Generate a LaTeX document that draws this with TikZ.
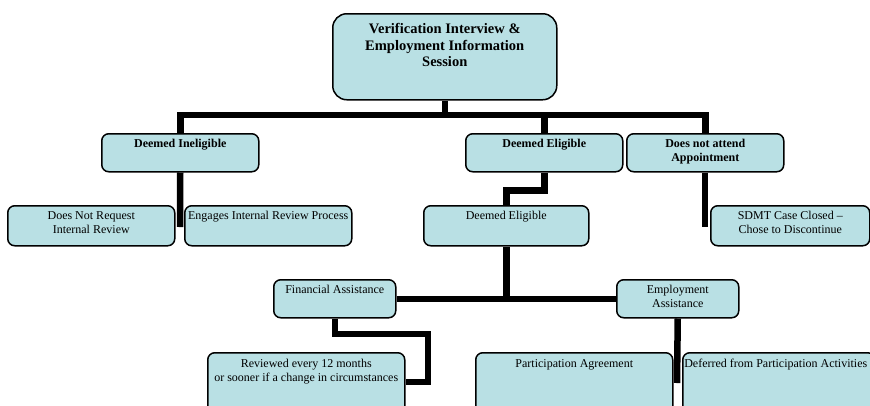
\documentclass[tikz,border=0pt]{standalone}
\usepackage{fontspec}
\setmainfont{Liberation Serif}
\usetikzlibrary{backgrounds}
\definecolor{boxc}{RGB}{185,224,228}
\newcommand\bxt[4]{\parbox[c][#2][t]{#1}{\centering\rule{0pt}{#3}#4\par}}
\begin{document}
\begin{tikzpicture}[x=1pt,y=-1pt,
  box/.style={draw, line width=1.5pt, fill=boxc, rounded corners=7pt, inner sep=0pt,
    anchor=north west, font=\fontsize{12}{14}\selectfont},
  boldbox/.style={box, font=\fontsize{12}{14}\selectfont\bfseries},
  conn/.style={line width=6.5pt, line join=miter}]
\clip (0,0) rectangle (870,405);
% nodes
\node[box, rounded corners=14pt, font=\fontsize{14.5}{16.5}\selectfont\bfseries] (top) at (332,13)
  {\bxt{224pt}{86pt}{20pt}{Verification Interview \&\\Employment Information\\Session}};
\node[boldbox] (inel) at (101,133) {\bxt{157pt}{38pt}{14pt}{Deemed Ineligible}};
\node[boldbox] (elig) at (465,133) {\bxt{157pt}{38pt}{14pt}{Deemed Eligible}};
\node[boldbox] (noatt) at (626,133) {\bxt{157pt}{38pt}{14pt}{Does not attend\\Appointment}};
\node[box] (noreq) at (7,205) {\bxt{167pt}{40pt}{14pt}{Does Not Request\\Internal Review}};
\node[box] (engage) at (184,205) {\bxt{167pt}{40pt}{14pt}{Engages Internal Review Process}};
\node[box] (elig2) at (423,205) {\bxt{165pt}{40pt}{14pt}{Deemed Eligible}};
\node[box] (sdmt) at (710,205) {\bxt{159pt}{40pt}{14pt}{SDMT Case Closed --\\Chose to Discontinue}};
\node[box] (fin) at (273,279) {\bxt{122pt}{38pt}{14pt}{Financial Assistance}};
\node[box] (emp) at (616,279) {\bxt{122pt}{38pt}{14pt}{Employment\\Assistance}};
\node[box] (rev) at (207,352) {\bxt{197pt}{70pt}{15pt}{Reviewed every 12 months\\or sooner if a change in circumstances}};
\node[box] (part) at (475,352) {\bxt{197pt}{70pt}{15pt}{Participation Agreement}};
\node[box] (defer) at (682,352) {\bxt{192pt}{70pt}{15pt}{\hspace*{-6pt}Deferred from Participation Activities}};
% coordinates
\coordinate (bar) at (0,115);
\coordinate (ie) at (180,227);
\coordinate (na) at (705,227);
\coordinate (f1) at (428,334);
\coordinate (f2) at (428,382);
\coordinate (ea) at (677,383);
% connectors
\begin{scope}[on background layer]
\draw[conn] (top.south) -- (top.south |- bar);
\draw[conn] (inel.north) -- (inel.north |- bar) -- (noatt.north |- bar) -- (noatt.north);
\draw[conn] (elig.north) -- (elig.north |- bar);
\draw[conn] (inel.south) -- (ie);
\draw[conn] (elig.south) -- ++(0,18) -| (elig2.north);
\draw[conn] (noatt.south -| na) -- (na);
\draw[conn] (elig2.south) -- (elig2.south |- fin.east);
\draw[conn] (fin.east) -- (emp.west);
\draw[conn] (fin.south) |- (f1) -- (f2) -- (rev.east |- f2);
\draw[conn] (emp.south) -- (ea);
\end{scope}
\end{tikzpicture}
\end{document}
